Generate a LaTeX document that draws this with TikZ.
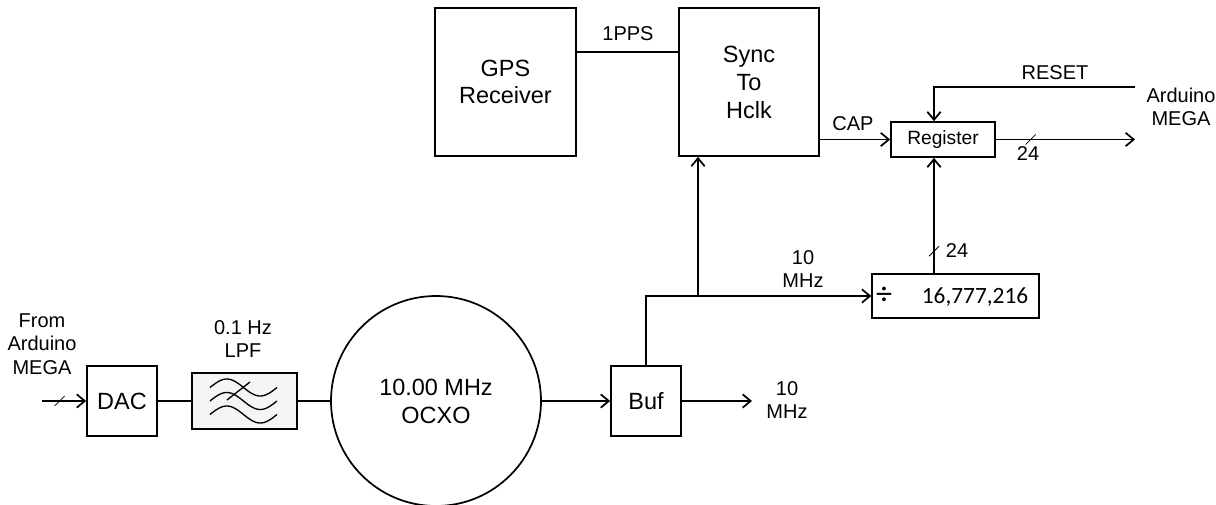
\documentclass[tikz,border=0pt]{standalone}
\usepackage{fontspec}
\setmainfont{Liberation Sans}
\newfontfamily\calib{Carlito}
\usetikzlibrary{arrows.meta}

\tikzset{
  blk/.style={draw, line width=1.3pt, align=center, inner sep=0pt, font=\fontsize{17.6}{21}\selectfont},
  lbl/.style={align=center, inner sep=0pt, font=\fontsize{15}{17.5}\selectfont},
  wire/.style={line width=1.3pt},
  sig/.style={wire, -{Straight Barb[length=6pt,width=10pt]}},
  busmark/.pic={\draw[-, line width=0.6pt] (-5,5) -- (5,-5);}
}

\begin{document}
\begin{tikzpicture}[x=0.75pt, y=-0.75pt]
\useasboundingbox (0,0) rectangle (1216,504);
% Blocks
\node[blk, minimum width=52.5pt, minimum height=52.5pt] (dac) at (122,401) {DAC};
\node[blk, fill=gray!8, minimum width=78.75pt, minimum height=42pt] (lpf) at (244.5,401) {};
\node[blk, circle, minimum size=157.5pt] (ocxo) at (436,401) {10.00 MHz\\OCXO};
\node[blk, minimum width=52.5pt, minimum height=52.5pt] (buf) at (646,401) {Buf};
\node[blk, minimum width=105.75pt, minimum height=111pt, font=\fontsize{17.6}{20.5}\selectfont] (gps) at (505.5,82) {GPS\\Receiver};
\node[blk, minimum width=105pt, minimum height=111pt] (sync) at (749,82) {Sync\\To\\Hclk};
\node[blk, minimum width=78pt, minimum height=26.25pt, font=\fontsize{14.4}{16}\selectfont] (reg) at (943,139.5) {Register};
\node[blk, minimum width=125pt, minimum height=33pt] (div) at (955.5,296) {};
\node[font=\calib\fontsize{24}{24}\selectfont] (dsym) at (884,296) {÷};
\node[font=\calib\fontsize{17.5}{20}\selectfont] (dnum) at (975,297) {16,777,216};
% LPF symbol
\foreach \dy in {0,13.5,27}
  \draw[line width=1pt] plot[domain=0:360, samples=40, smooth] ({210+\x/360*67}, {387.5+\dy-8.5*sin(\x)});
\draw[line width=1pt] (227,400) -- (250,382);
% Labels
\node[lbl] (from) at (42,344) {From\\Arduino\\MEGA};
\node[lbl] (lpftxt) at (243,339) {0.1 Hz\\LPF};
\node[lbl] (outtxt) at (787,400) {10\\MHz};
\node[lbl] (clktxt) at (803,269) {10\\MHz};
\node[lbl] (ppstxt) at (628,34) {1PPS};
\node[lbl] (captxt) at (853,124) {CAP};
\node[lbl] (rsttxt) at (1055,73) {RESET};
\node[lbl] (ard) at (1181,107) {Arduino\\MEGA};
\node[lbl] (w1) at (1028,154) {24};
\node[lbl] (w2) at (957,251) {24};
% Free ends
\coordinate (din) at (42,401);
\coordinate (bout) at (752,401);
\coordinate (tap) at (698,296);
\coordinate (bus) at (934,0);
\coordinate (ppsy) at (0,52);
\coordinate (rst) at (1135,87);
\coordinate (rout) at (1135,139.5);
% Connections
\draw[sig] (din) -- (dac.west) pic[pos=0.4]{busmark};
\draw[wire] (dac) -- (lpf);
\draw[wire] (lpf) -- (ocxo);
\draw[sig] (ocxo) -- (buf);
\draw[sig] (buf) -- (bout);
\draw[sig] (buf.north) |- (div.west);
\draw[sig] (tap) -- (tap |- sync.south);
\draw[wire] (gps.east |- ppsy) -- (sync.west |- ppsy);
\draw[sig] (sync.east |- reg.west) -- (reg.west);
\draw[sig] (rst) -- (rst -| bus) -- (bus |- reg.north);
\draw[sig] (reg.east) -- (rout) pic[pos=0.25]{busmark};
\draw[sig] (bus |- div.north) -- (bus |- reg.south) pic[pos=0.19]{busmark};
\end{tikzpicture}
\end{document}
